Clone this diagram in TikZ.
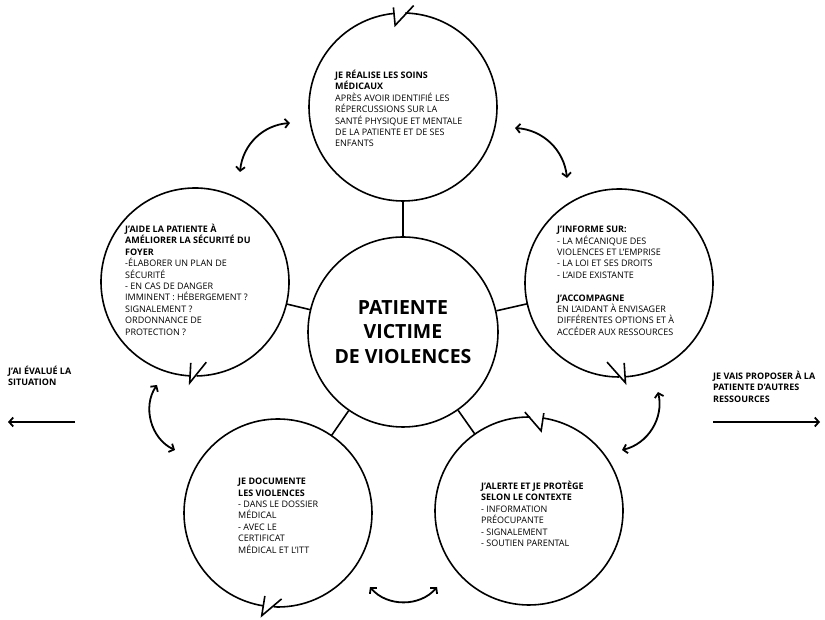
\documentclass[tikz,border=0pt]{standalone}
\usepackage{fontspec}
\setmainfont{Open Sans}
\usetikzlibrary{calc,arrows.meta}

\begin{document}
\begin{tikzpicture}[
  x=1pt, y=1pt,
  bubble/.style={circle, minimum size=188pt, inner sep=0pt},
  rim/.style={line width=1.6pt, line join=miter},
  link/.style={line width=1.6pt},
  swap/.style={{Straight Barb[length=4pt,width=9pt]}-{Straight Barb[length=4pt,width=9pt]}, line width=1.8pt},
  side/.style={-{Straight Barb[length=4pt,width=9pt]}, line width=1.8pt},
  txt/.style={align=left, inner sep=0pt, anchor=north west, font=\fontsize{9}{11.4}\selectfont}
]
\useasboundingbox (0,0) rectangle (825,620);

% centre and the five steps
\node[bubble, draw, line width=1.6pt, minimum size=190pt, align=center, font=\bfseries\fontsize{19.5}{24.5}\selectfont] (centre) at (403,288) {PATIENTE\\VICTIME\\DE VIOLENCES};
\node[bubble] (soins) at (403,513) {};
\node[bubble] (securite) at (195,338) {};
\node[bubble] (informe) at (619,337) {};
\node[bubble] (documente) at (278,107) {};
\node[bubble] (alerte) at (529,109) {};

% outlines with their tails
\draw[rim] ($(soins)+(95.5:94)$) arc[start angle=95.5, end angle=448.6, radius=94pt];
\draw[rim] ($(soins)+(95.5:100)$) -- ($(soins)+(95.5:82)$) -- ($(soins)+(84:102)$);
\draw[rim] ($(securite)+(271:94)$) arc[start angle=271, end angle=627, radius=94pt];
\draw[rim] ($(securite)+(267:81)$) -- ($(securite)+(267:101)$) -- ($(securite)+(278:81)$);
\draw[rim] ($(informe)+(273.7:94)$) arc[start angle=273.7, end angle=630, radius=94pt];
\draw[rim] ($(informe)+(273.7:80)$) -- ($(informe)+(273.7:100)$) -- ($(informe)+(261.4:80)$);
\draw[rim] ($(documente)+(267.3:94)$) arc[start angle=267.3, end angle=621, radius=94pt];
\draw[rim] ($(documente)+(261:84)$) -- ($(documente)+(261:104)$) -- ($(documente)+(272.4:86)$);
\draw[rim] ($(alerte)+(89.3:94)$) arc[start angle=89.3, end angle=441.4, radius=94pt];
\draw[rim] ($(alerte)+(81.4:99)$) -- ($(alerte)+(81.4:81)$) -- ($(alerte)+(92.4:99)$);

% links to the centre
\draw[link] (centre) -- (soins);
\draw[link] (centre) -- (securite);
\draw[link] (centre) -- (informe);
\draw[link] (centre) -- (documente);
\draw[link] (centre) -- (alerte);

% texts
\node[txt] (t-soins) at (335,550) {\textbf{JE RÉALISE LES SOINS}\\\textbf{MÉDICAUX}\\APRÈS AVOIR IDENTIFIÉ LES\\RÉPERCUSSIONS SUR LA\\SANTÉ PHYSIQUE ET MENTALE\\DE LA PATIENTE ET DE SES\\ENFANTS};
\node[txt] (t-securite) at (125,396) {\textbf{J'AIDE LA PATIENTE À}\\\textbf{AMÉLIORER LA SÉCURITÉ DU}\\\textbf{FOYER}\\-ÉLABORER UN PLAN DE\\SÉCURITÉ\\- EN CAS DE DANGER\\IMMINENT : HÉBERGEMENT ?\\SIGNALEMENT ?\\ORDONNANCE DE\\PROTECTION ?};
\node[txt] (t-informe) at (557,394) {\textbf{J'INFORME SUR:}\\- LA MÉCANIQUE DES\\VIOLENCES ET L'EMPRISE\\- LA LOI ET SES DROITS\\- L'AIDE EXISTANTE\\[11.4pt]\textbf{J'ACCOMPAGNE}\\EN L'AIDANT À ENVISAGER\\DIFFÉRENTES OPTIONS ET À\\ACCÉDER AUX RESSOURCES};
\node[txt] (t-documente) at (238,142) {\textbf{JE DOCUMENTE}\\\textbf{LES VIOLENCES}\\- DANS LE DOSSIER\\MÉDICAL\\- AVEC LE\\CERTIFICAT\\MÉDICAL ET L'ITT};
\node[txt] (t-alerte) at (481,139) {\textbf{J'ALERTE ET JE PROTÈGE}\\\textbf{SELON LE CONTEXTE}\\- INFORMATION\\PRÉOCUPANTE\\- SIGNALEMENT\\- SOUTIEN PARENTAL};

% round trips between steps
\coordinate (a1) at (240,448);
\coordinate (a2) at (290,497);
\coordinate (b1) at (515,492);
\coordinate (b2) at (567,442);
\coordinate (c1) at (157,235);
\coordinate (c2) at (175,170);
\coordinate (d1) at (658,228);
\coordinate (d2) at (622,170);
\coordinate (e1) at (370,33);
\coordinate (e2) at (437,33);
\draw[swap] (a1) to[bend left=40] (a2);
\draw[swap] (b1) to[bend left=40] (b2);
\draw[swap] (c1) to[bend right=50] (c2);
\draw[swap] (d1) to[bend left=45] (d2);
\draw[swap] (e1) to[bend right=50] (e2);

% before and after
\node[txt, font=\bfseries\fontsize{9}{11.4}\selectfont] (avant) at (8,254) {J'AI ÉVALUÉ LA\\SITUATION};
\node[txt, font=\bfseries\fontsize{9}{11.4}\selectfont] (apres) at (713,249) {JE VAIS PROPOSER À LA\\PATIENTE D'AUTRES\\RESSOURCES};
\coordinate (g1) at (75,198);
\coordinate (g2) at (8,198);
\coordinate (h1) at (713,198);
\coordinate (h2) at (820,198);
\draw[side] (g1) -- (g2);
\draw[side] (h1) -- (h2);
\end{tikzpicture}
\end{document}
